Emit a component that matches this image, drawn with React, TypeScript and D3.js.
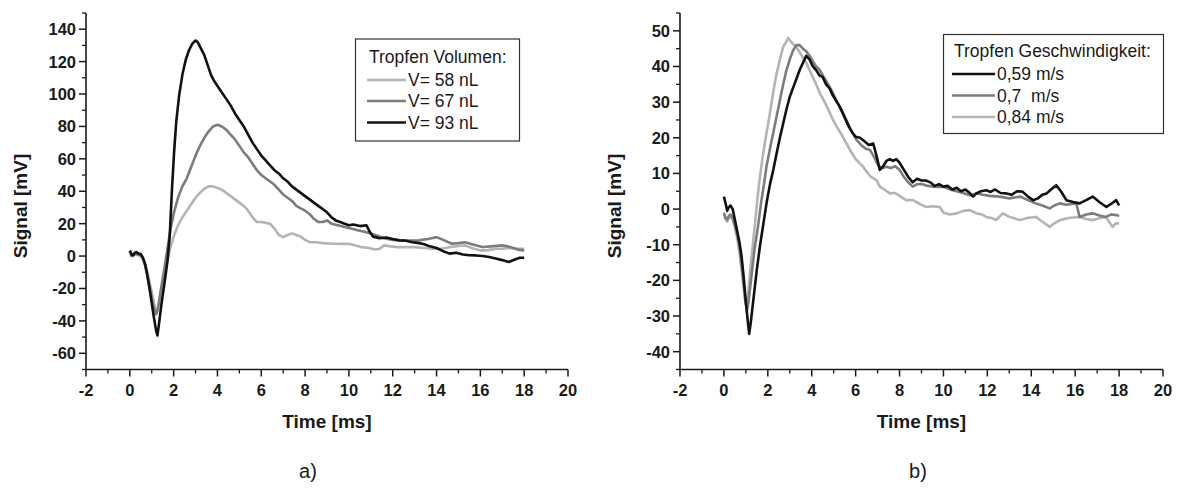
import * as d3 from "d3";

const FONT = "'Liberation Sans', Arial, Helvetica, sans-serif";
const INK = "#1a1a1a";

// x axis (shared)
const X_DOMAIN = [-2, 20];
const X_MAJOR = d3.range(-2, 20.001, 2);
const X_MINOR = d3.range(-1, 20, 2);

// panel a) droplet volume, [time ms, signal mV]
const V58 = [
  [0, 2.5], [0.08, 0], [0.15, 0], [0.25, 1], [0.4, 0.5], [0.5, 0], [0.6, -2], [0.7, -5], [0.8, -10], [0.9, -16],
  [1.0, -22], [1.1, -29], [1.2, -34], [1.28, -32], [1.4, -24], [1.55, -14], [1.7, -4], [1.85, 5], [2.0, 12],
  [2.2, 19], [2.4, 24], [2.6, 28], [2.8, 32], [3.0, 36], [3.2, 39], [3.4, 41.5], [3.6, 43], [3.8, 43], [4.0, 42],
  [4.2, 41], [4.4, 39], [4.6, 37], [4.8, 35], [5.0, 33], [5.2, 31], [5.4, 28], [5.6, 24], [5.8, 21], [6.0, 21],
  [6.2, 20.5], [6.4, 20], [6.6, 17], [6.8, 13], [7.0, 11.7], [7.2, 13], [7.4, 14], [7.6, 13], [7.8, 12], [8.0, 10],
  [8.2, 8.6], [8.5, 8.5], [8.8, 8], [9.1, 7.8], [9.4, 7.6], [9.7, 7.5], [10.0, 7.6], [10.3, 6.5], [10.6, 5.5],
  [10.9, 5], [11.2, 4], [11.4, 4.5], [11.6, 6.6], [11.9, 6], [12.2, 5.5], [12.6, 5.5], [13.0, 5.5], [13.4, 5],
  [13.8, 4.5], [14.2, 4.5], [14.6, 5.5], [15.0, 6.2], [15.3, 6.6], [15.6, 5], [16.0, 3.5], [16.3, 3.5], [16.7, 4.5],
  [17.0, 4.5], [17.4, 5], [17.7, 4.5], [18.0, 4.5],
];
const V67 = [
  [0, 3], [0.08, 0], [0.15, 0.5], [0.25, 1.5], [0.4, 1], [0.5, 0.5], [0.6, -2], [0.7, -6], [0.8, -12], [0.9, -19],
  [1.0, -26], [1.1, -32], [1.2, -36], [1.28, -33], [1.4, -22], [1.55, -10], [1.7, 3], [1.85, 16], [2.0, 26],
  [2.2, 36], [2.4, 43], [2.6, 48], [2.8, 55], [3.0, 62], [3.2, 68], [3.4, 73], [3.6, 77], [3.8, 80], [4.0, 81],
  [4.2, 80], [4.4, 78], [4.6, 75], [4.8, 72], [5.0, 68], [5.2, 64], [5.4, 61], [5.6, 57], [5.8, 53], [6.0, 50],
  [6.2, 48], [6.4, 46], [6.6, 44], [6.8, 41], [7.0, 38], [7.2, 36], [7.4, 34], [7.6, 31], [7.8, 29.5], [8.0, 28],
  [8.2, 26], [8.4, 23], [8.6, 21], [8.8, 21], [9.0, 22], [9.2, 20], [9.5, 19], [9.8, 18], [10.1, 17], [10.4, 16],
  [10.7, 15], [11.0, 14], [11.3, 12.5], [11.6, 11], [12.0, 10], [12.4, 9.7], [12.8, 9.5], [13.2, 9.7], [13.6, 10.5],
  [14.0, 11.7], [14.3, 10], [14.7, 7.6], [15.0, 8], [15.3, 8.5], [15.7, 7], [16.1, 5.6], [16.5, 6], [17.0, 6.6],
  [17.4, 5.5], [17.7, 4], [18.0, 3.5],
];
const V93 = [
  [0, 3.5], [0.08, 1], [0.15, 0.5], [0.22, 2], [0.3, 2.5], [0.4, 1.5], [0.5, 1.2], [0.6, -1], [0.7, -5], [0.8, -12],
  [0.9, -20], [1.0, -29], [1.1, -38], [1.2, -46], [1.26, -49], [1.33, -42], [1.45, -29], [1.6, -15], [1.72, -3],
  [1.82, 12], [1.92, 40], [2.02, 64], [2.12, 83], [2.25, 99], [2.4, 112], [2.55, 121], [2.7, 127], [2.85, 131],
  [3.0, 133], [3.1, 132], [3.25, 128], [3.4, 124], [3.55, 118], [3.7, 112], [3.85, 108], [4.0, 105], [4.2, 101],
  [4.4, 97], [4.6, 93], [4.8, 88], [5.0, 84], [5.2, 80], [5.4, 75], [5.6, 70], [5.8, 66], [6.0, 62], [6.2, 59],
  [6.4, 56], [6.6, 53], [6.8, 51], [7.0, 48], [7.2, 46], [7.4, 43], [7.6, 41], [7.8, 39], [8.0, 37], [8.2, 35],
  [8.4, 33], [8.6, 31], [8.8, 29], [9.0, 27], [9.2, 24], [9.4, 22], [9.6, 21], [9.8, 20], [10.0, 19], [10.2, 19.5],
  [10.5, 18.5], [10.8, 19], [10.95, 15], [11.1, 12], [11.4, 11], [11.7, 11.5], [12.0, 10.5], [12.3, 9.7],
  [12.6, 9.5], [12.9, 8.5], [13.2, 8], [13.4, 7.5], [13.7, 6], [14.0, 5], [14.3, 3], [14.6, 1.5], [14.9, 2],
  [15.2, 1], [15.5, 0.5], [15.8, 0.4], [16.1, 0], [16.4, -0.6], [16.7, -1.5], [17.0, -2.5], [17.3, -3.7],
  [17.6, -2], [17.8, -1], [18.0, -1],
];

// panel b) droplet speed
const S059 = [
  [0, 3.5], [0.08, 1.5], [0.15, -0.5], [0.22, 0.5], [0.3, 1], [0.4, 0], [0.5, -3], [0.6, -6], [0.7, -9], [0.8, -13],
  [0.9, -19], [1.0, -26], [1.08, -31], [1.15, -35], [1.22, -32], [1.35, -25], [1.5, -17], [1.65, -10], [1.8, -4],
  [1.95, 2], [2.1, 7], [2.25, 11], [2.4, 15.6], [2.55, 20], [2.7, 24], [2.85, 28], [3.0, 31.5], [3.15, 34],
  [3.3, 36.5], [3.45, 39], [3.6, 41], [3.75, 43], [3.9, 42], [4.05, 40], [4.2, 39], [4.35, 37.5], [4.5, 37],
  [4.65, 35], [4.8, 34], [4.95, 32], [5.1, 30.5], [5.25, 29], [5.4, 27], [5.55, 25], [5.7, 23], [5.85, 21.5],
  [6.0, 20.3], [6.2, 20], [6.4, 19], [6.6, 18], [6.8, 18.4], [6.95, 15], [7.1, 11], [7.25, 12], [7.4, 13.5],
  [7.56, 14], [7.7, 13.5], [7.85, 14], [8.0, 13], [8.2, 11], [8.4, 9], [8.6, 7.5], [8.8, 8.5], [9.0, 8], [9.2, 8],
  [9.4, 7.5], [9.6, 6.5], [9.8, 7], [10.0, 6.3], [10.2, 6.5], [10.4, 5.5], [10.6, 6], [10.8, 5], [11.0, 5.5],
  [11.2, 4.5], [11.35, 3.5], [11.5, 4.4], [11.7, 5], [11.95, 5.3], [12.15, 4.8], [12.35, 5.5], [12.6, 4.5],
  [12.87, 4.4], [13.1, 4], [13.35, 5], [13.6, 4.9], [13.85, 3.5], [14.08, 2.5], [14.3, 3], [14.5, 4], [14.7, 4.4],
  [14.9, 5.5], [15.14, 6.7], [15.35, 5], [15.6, 2.5], [15.9, 2], [16.2, 1.6], [16.5, 2.5], [16.8, 3.5], [17.1, 2],
  [17.42, 0.6], [17.65, 1.5], [17.87, 2.5], [18.0, 1],
];
const S070 = [
  [0, -1], [0.08, -2.5], [0.15, -3], [0.22, -2], [0.3, -1.5], [0.4, -2.5], [0.5, -4.5], [0.6, -7], [0.7, -10],
  [0.8, -15], [0.9, -21], [0.98, -26], [1.05, -28.5], [1.12, -26], [1.25, -19], [1.4, -11], [1.55, -5], [1.7, 2],
  [1.85, 8], [1.94, 12], [2.1, 17], [2.25, 21.5], [2.4, 26], [2.55, 30.5], [2.7, 35], [2.85, 39], [3.0, 42],
  [3.15, 44.5], [3.3, 46], [3.45, 46], [3.6, 45], [3.76, 44.2], [3.9, 43], [4.05, 41.5], [4.2, 40], [4.37, 39],
  [4.55, 37], [4.75, 35], [4.97, 32.5], [5.15, 30], [5.35, 28], [5.58, 25], [5.8, 22], [6.04, 19.4], [6.25, 18],
  [6.45, 17], [6.65, 16.6], [6.85, 14.5], [7.05, 12], [7.25, 11.5], [7.4, 11.9], [7.6, 11.5], [7.8, 12], [8.0, 11],
  [8.2, 9], [8.4, 7.5], [8.6, 6.3], [8.8, 7], [9.0, 7], [9.3, 6.5], [9.6, 6.2], [10.0, 6.3], [10.3, 5.5], [10.6, 5],
  [10.9, 4.5], [11.2, 3.9], [11.5, 4.4], [11.8, 4], [12.1, 3.7], [12.56, 3.5], [13.0, 3], [13.5, 3.5], [13.85, 2.5],
  [14.2, 1.6], [14.5, 1], [14.84, 0.2], [15.05, 1], [15.3, 1.6], [15.6, 1.2], [16.05, 1.6], [16.2, -2.2],
  [16.5, -1.5], [16.8, -1.2], [17.1, -1.8], [17.4, -2.2], [17.65, -1.5], [17.9, -1.7], [18.0, -2],
];
const S084 = [
  [0, -1.5], [0.08, -3], [0.15, -3.5], [0.22, -2.5], [0.3, -2], [0.4, -3], [0.5, -5], [0.6, -8], [0.7, -12],
  [0.8, -17], [0.9, -22], [0.98, -26], [1.03, -27.5], [1.1, -24], [1.2, -17], [1.35, -8], [1.49, 0.6], [1.6, 7],
  [1.75, 14], [1.94, 21.3], [2.1, 27], [2.25, 33], [2.4, 38], [2.55, 42], [2.7, 45.5], [2.85, 47], [2.93, 48],
  [3.05, 47], [3.2, 46], [3.35, 45], [3.5, 43.5], [3.65, 42], [3.76, 41], [3.9, 39], [4.05, 37], [4.2, 35],
  [4.37, 32.5], [4.55, 30.5], [4.75, 28], [4.97, 25], [5.15, 23], [5.35, 21], [5.58, 18.4], [5.8, 16], [6.0, 14],
  [6.19, 12.8], [6.34, 11.9], [6.5, 10.5], [6.7, 9], [6.95, 8.1], [7.1, 6.3], [7.3, 5.5], [7.56, 4.4], [7.8, 4.5],
  [8.05, 3.5], [8.3, 2.5], [8.62, 2.5], [8.9, 1.5], [9.2, 0.6], [9.5, 0.8], [9.83, 0.6], [10.0, -1], [10.3, -1.5],
  [10.6, -1.2], [10.9, -0.5], [11.2, -0.3], [11.5, -1.2], [11.75, -1.5], [11.95, -2.2], [12.2, -2.5], [12.4, -3.1],
  [12.7, -1.2], [13.0, -2.2], [13.2, -2.5], [13.47, -3.1], [13.8, -2.5], [14.2, -2.2], [14.5, -3.5], [14.84, -5],
  [15.05, -4], [15.3, -3.1], [15.7, -2.5], [16.2, -2.2], [16.5, -2.8], [16.8, -3.1], [17.1, -2.6], [17.4, -2.2],
  [17.7, -5], [17.85, -4], [18.0, -4],
];

const BLACK = "#111111";
const MID = "#7c7c7c";
const LIGHT = "#b4b4b4";

// draw order: back to front
const SERIES_A = [
  { name: "V= 58 nL", color: LIGHT, data: V58 },
  { name: "V= 67 nL", color: MID, data: V67 },
  { name: "V= 93 nL", color: BLACK, data: V93 },
];
const SERIES_B = [
  { name: "0,84 m/s", color: LIGHT, data: S084 },
  { name: "0,7  m/s", color: MID, data: S070 },
  { name: "0,59 m/s", color: BLACK, data: S059 },
];

const Y_A = { domain: [-70, 150], major: d3.range(-60, 141, 20), minor: d3.range(-70, 151, 20) };
const Y_B = { domain: [-45, 55], major: d3.range(-40, 51, 10), minor: d3.range(-45, 56, 10) };

function Panel({ left, right, yAxis, series, legend, tag, tagX }) {
  const top = 13;
  const bottom = 369.5;
  const x = d3.scaleLinear().domain(X_DOMAIN).range([left, right]);
  const y = d3.scaleLinear().domain(yAxis.domain).range([bottom, top]);
  const line = d3.line().x((d) => x(d[0])).y((d) => y(d[1]));
  const midX = (left + right) / 2;

  return (
    <g>
      {/* curves */}
      {series.map((s) => (
        <path key={s.name} d={line(s.data)} fill="none" stroke={s.color} strokeWidth={2.6} strokeLinejoin="round" />
      ))}

      {/* y axis */}
      <line x1={left} x2={left} y1={top} y2={bottom} stroke={INK} strokeWidth={1.6} />
      {yAxis.minor.map((v) => (
        <line key={"ym" + v} x1={left - 4} x2={left} y1={y(v)} y2={y(v)} stroke={INK} strokeWidth={1.3} />
      ))}
      {yAxis.major.map((v) => (
        <g key={"yM" + v}>
          <line x1={left - 7} x2={left} y1={y(v)} y2={y(v)} stroke={INK} strokeWidth={1.5} />
          <text x={left - 10} y={y(v)} dy="0.36em" textAnchor="end" fontSize={16.5} fontWeight={700} fill={INK}>
            {v}
          </text>
        </g>
      ))}

      {/* x axis */}
      <line x1={left} x2={right} y1={bottom} y2={bottom} stroke={INK} strokeWidth={1.6} />
      {X_MINOR.map((t) => (
        <line key={"xm" + t} x1={x(t)} x2={x(t)} y1={bottom} y2={bottom + 4} stroke={INK} strokeWidth={1.3} />
      ))}
      {X_MAJOR.map((t) => (
        <g key={"xM" + t}>
          <line x1={x(t)} x2={x(t)} y1={bottom} y2={bottom + 7} stroke={INK} strokeWidth={1.5} />
          <text x={x(t)} y={396} textAnchor="middle" fontSize={16.5} fontWeight={700} fill={INK}>
            {t}
          </text>
        </g>
      ))}

      {/* axis titles */}
      <text x={midX} y={428} textAnchor="middle" fontSize={19} fontWeight={700} fill={INK}>
        Time [ms]
      </text>
      <text
        transform={`translate(${left - 59},206) rotate(-90)`}
        textAnchor="middle"
        fontSize={19}
        fontWeight={700}
        fill={INK}
      >
        Signal [mV]
      </text>

      {/* legend */}
      <g>
        <rect x={legend.x} y={legend.y} width={legend.w} height={legend.h} fill="white" stroke="#333" strokeWidth={1.2} />
        <text x={legend.tx} y={legend.ty} fontSize={17.5} fill={INK}>
          {legend.title}
        </text>
        {legend.order.map((s, i) => {
          const ly = legend.rowY[i];
          return (
            <g key={s.name}>
              <line x1={legend.lx0} x2={legend.lx1} y1={ly} y2={ly} stroke={s.color} strokeWidth={2.6} />
              <text x={legend.lx1 + 2} y={ly + 6} fontSize={17.5} fill={INK} style={{ whiteSpace: "pre" }}>
                {s.name}
              </text>
            </g>
          );
        })}
      </g>

      <text x={tagX} y={478} textAnchor="middle" fontSize={20} fill={INK}>
        {tag}
      </text>
    </g>
  );
}

export default function App() {
  const legendA = {
    x: 355.5, y: 39, w: 164, h: 102,
    tx: 369, ty: 63, title: "Tropfen Volumen:",
    lx0: 367, lx1: 406, rowY: [80, 101, 122.5],
    order: SERIES_A,
  };
  const legendB = {
    x: 943.5, y: 34.5, w: 220, h: 99,
    tx: 954, ty: 57, title: "Tropfen Geschwindigkeit:",
    lx0: 952, lx1: 995, rowY: [74, 95.5, 117],
    order: [SERIES_B[2], SERIES_B[1], SERIES_B[0]],
  };

  return (
    <svg
      width={1180}
      height={499}
      style={{ position: "absolute", left: 0, top: 0, background: "white", fontFamily: FONT }}
    >
      <rect width={1180} height={499} fill="white" />
      <Panel left={86} right={568} yAxis={Y_A} series={SERIES_A} legend={legendA} tag="a)" tagX={308} />
      <Panel left={680} right={1163} yAxis={Y_B} series={SERIES_B} legend={legendB} tag="b)" tagX={918} />
    </svg>
  );
}
